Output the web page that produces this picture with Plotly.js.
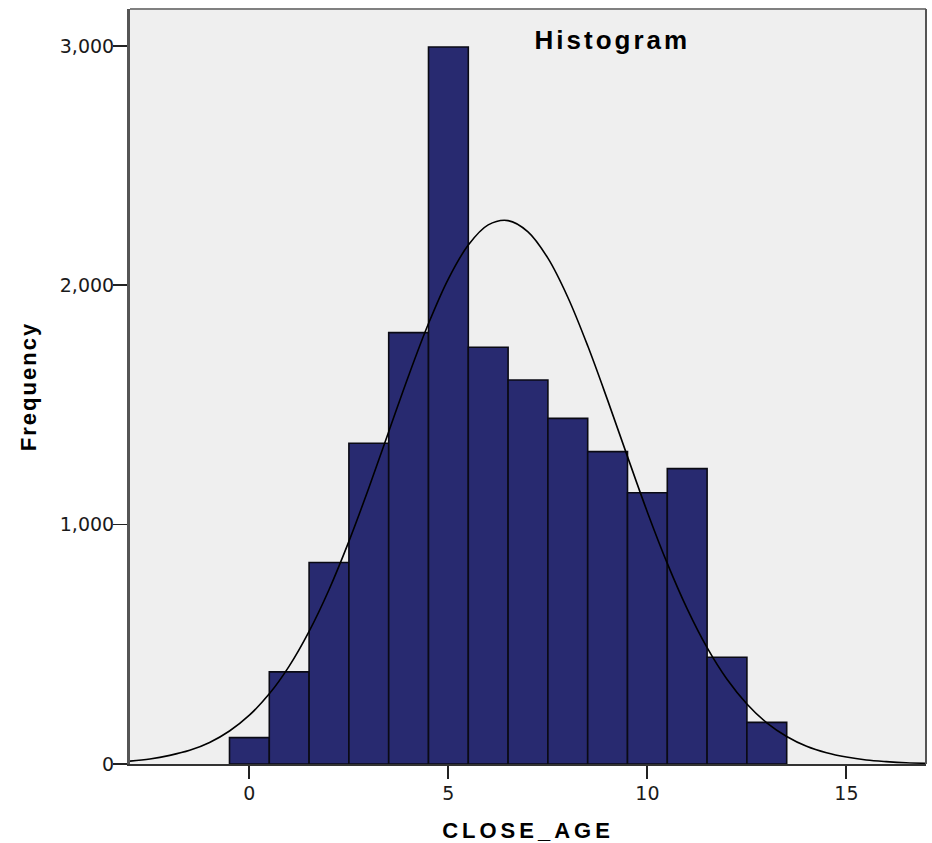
<!DOCTYPE html>
<html>
<head>
<meta charset="utf-8">
<script src="https://cdn.plot.ly/plotly-3.0.1.min.js"></script>
<style>
  html, body { margin: 0; padding: 0; background: #ffffff; }
  #chart { width: 932px; height: 843px; }
  .gtitle { letter-spacing: 3px; }
  .xtitle { letter-spacing: 4px; }
  .ytitle { letter-spacing: 2px; }
</style>
</head>
<body>
<div id="chart"></div>
<script>
// Histogram bins (centre of each 1-year bin) and their frequencies
const ageBins = [0, 1, 2, 3, 4, 5, 6, 7, 8, 9, 10, 11, 12, 13];
const frequency = [110, 385, 842, 1340, 1802, 2995, 1741, 1604, 1444, 1305, 1133, 1234, 446, 174];

// Normal curve
const curveX = [-3, -2.5, -2, -1.5, -1, -0.5, 0, 0.5, 1, 1.5, 2, 2.5, 3, 3.5, 4, 4.5, 5, 5.5, 6, 6.5,
                 7, 7.5, 8, 8.5, 9, 9.5, 10, 10.5, 11, 11.5, 12, 12.5, 13, 13.5, 14, 14.5, 15, 15.5, 16, 16.5, 17];
const curveY = [12, 21, 36, 57, 90, 138, 204, 293, 409, 554, 728, 930, 1153, 1388, 1622, 1840, 2027, 2168, 2252, 2270,
                2223, 2113, 1950, 1747, 1520, 1284, 1052, 838, 648, 486, 354, 251, 172, 115, 74, 47, 29, 17, 10, 5, 3];

// Tick labels
const xTickVals = [0, 5, 10, 15];
const yTickVals = [0, 1000, 2000, 3000];
const yTickText = ['0', '1,000', '2,000', '3,000'];

const bars = {
  type: 'bar',
  x: ageBins,
  y: frequency,
  width: 1,
  marker: { color: '#282a70', line: { color: '#0a0a14', width: 1.6 } },
  hoverinfo: 'skip'
};

const curve = {
  type: 'scatter',
  mode: 'lines',
  x: curveX,
  y: curveY,
  line: { color: '#000000', width: 1.6, shape: 'spline' },
  hoverinfo: 'skip'
};

const tickFont = { family: 'DejaVu Sans', size: 19, color: '#1a1a1a' };

const layout = {
  width: 932,
  height: 843,
  margin: { l: 130, r: 6, t: 9, b: 79, pad: 0 },
  paper_bgcolor: '#ffffff',
  plot_bgcolor: '#efefef',
  showlegend: false,
  bargap: 0,
  hovermode: false,
  title: {
    text: 'Histogram',
    x: 0.657, y: 0.953, xanchor: 'center', yanchor: 'middle',
    xref: 'container', yref: 'container',
    font: { family: 'Liberation Sans', size: 26, weight: 'bold', color: '#000000' }
  },
  xaxis: {
    range: [-3, 17],
    tickvals: xTickVals,
    ticktext: xTickVals.map(String),
    ticks: 'outside', ticklen: 13, tickwidth: 2, tickcolor: '#222222',
    tickfont: tickFont,
    ticklabelstandoff: -2,
    showline: true, linecolor: '#333333', linewidth: 2,
    showgrid: false, zeroline: false,
    title: { text: 'CLOSE_AGE', standoff: 20,
             font: { family: 'Liberation Sans', size: 22, weight: 'bold', color: '#000000' } }
  },
  yaxis: {
    range: [0, 3154],
    tickvals: yTickVals,
    ticktext: yTickText,
    ticks: 'outside', ticklen: 14, tickwidth: 1.5, tickcolor: '#222222',
    tickfont: tickFont,
    ticklabelstandoff: -5,
    showline: true, linecolor: '#555555', linewidth: 3,
    showgrid: false, zeroline: false,
    title: { text: 'Frequency', standoff: 18,
             font: { family: 'Liberation Sans', size: 22, weight: 'bold', color: '#000000' } }
  },
  shapes: [
    { type: 'line', xref: 'paper', yref: 'paper', x0: 0, x1: 1, y0: 1, y1: 1,
      line: { color: '#808080', width: 2 } },
    { type: 'line', xref: 'paper', yref: 'paper', x0: 1, x1: 1, y0: 0, y1: 1,
      line: { color: '#555555', width: 2 } }
  ]
};

Plotly.newPlot('chart', [bars, curve], layout, { staticPlot: true, displayModeBar: false });
</script>
</body>
</html>
